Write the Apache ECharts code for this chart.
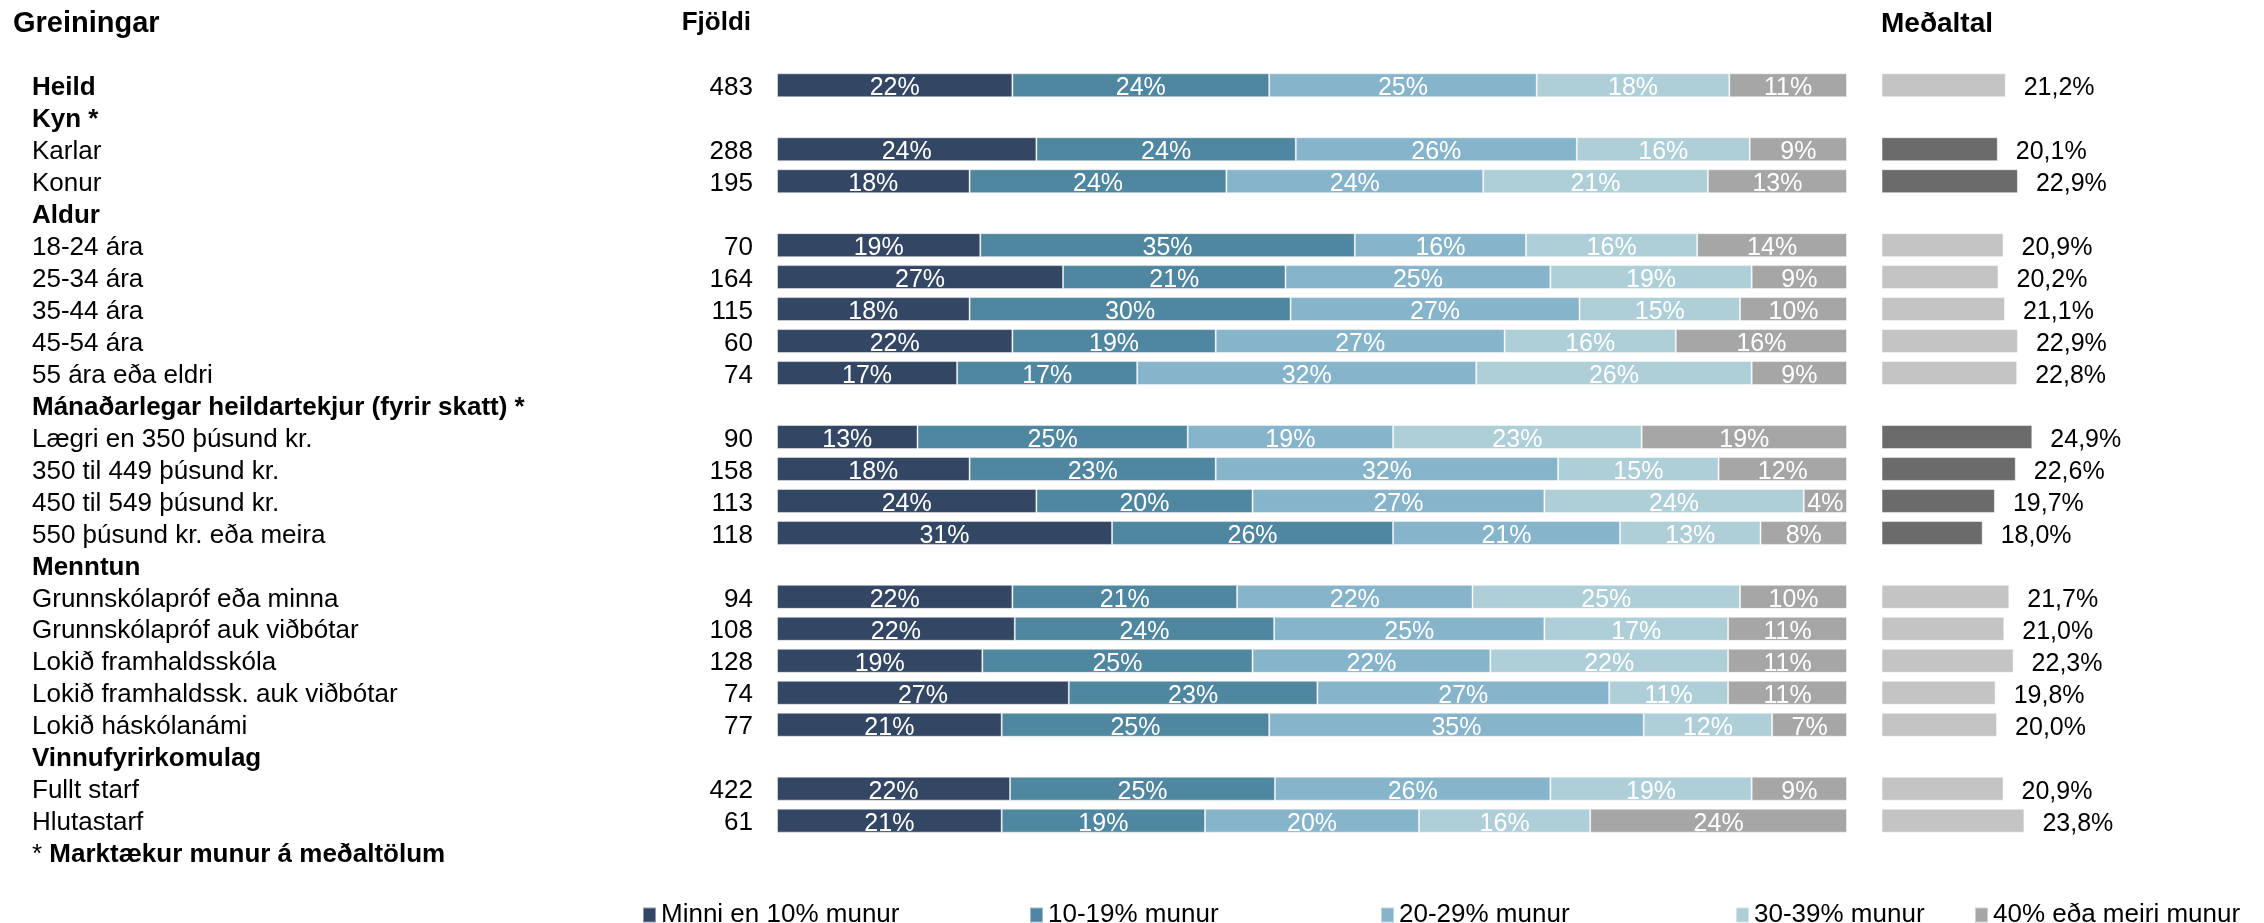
<!DOCTYPE html>
<html><head><meta charset="utf-8">
<script src="https://cdn.jsdelivr.net/npm/echarts@6/dist/echarts.min.js"></script>
<style>html,body{margin:0;padding:0;background:#fff}#c{width:2264px;height:923px}</style>
</head><body><div id="c"></div>
<script>
// ---------- DATA ----------
const rowLabels = ['Heild','Kyn *','Karlar','Konur','Aldur','18-24 ára','25-34 ára','35-44 ára','45-54 ára','55 ára eða eldri',
  'Mánaðarlegar heildartekjur (fyrir skatt) *','Lægri en 350 þúsund kr.','350 til 449 þúsund kr.','450 til 549 þúsund kr.','550 þúsund kr. eða meira',
  'Menntun','Grunnskólapróf eða minna','Grunnskólapróf auk viðbótar','Lokið framhaldsskóla','Lokið framhaldssk. auk viðbótar','Lokið háskólanámi',
  'Vinnufyrirkomulag','Fullt starf','Hlutastarf','* Marktækur munur á meðaltölum'];
const headerRows = [0,1,4,10,15,21,24];
const counts   = [483,null,288,195,null,70,164,115,60,74,null,90,158,113,118,null,94,108,128,74,77,null,422,61,null];
const seriesNames = ['Minni en 10% munur','10-19% munur','20-29% munur','30-39% munur','40% eða meiri munur'];
const under10  = [22,null,24,18,null,19,27,18,22,17,null,13,18,24,31,null,22,22,19,27,21,null,22,21,null];
const p10to19  = [24,null,24,24,null,35,21,30,19,17,null,25,23,20,26,null,21,24,25,23,25,null,25,19,null];
const p20to29  = [25,null,26,24,null,16,25,27,27,32,null,19,32,27,21,null,22,25,22,27,35,null,26,20,null];
const p30to39  = [18,null,16,21,null,16,19,15,16,26,null,23,15,24,13,null,25,17,22,11,12,null,19,16,null];
const p40plus  = [11,null,9,13,null,14,9,10,16,9,null,19,12,4,8,null,10,11,11,11,7,null,9,24,null];
const means    = [21.2,null,20.1,22.9,null,20.9,20.2,21.1,22.9,22.8,null,24.9,22.6,19.7,18.0,null,21.7,21.0,22.3,19.8,20.0,null,20.9,23.8,null];
const significantRows = [2,3,11,12,13,14];

// ---------- STYLE ----------
const FONT = '"Liberation Sans", Arial, sans-serif';
const colors = ['#334764','#4f86a0','#86b4ca','#aecfd8','#a6a6a6'];
const groups = [under10, p10to19, p20to29, p30to39, p40plus];
const totals = rowLabels.map((_, i) => groups[0][i] == null ? null : groups.reduce((s, g) => s + g[i], 0));

const chart = echarts.init(document.getElementById('c'), null, {renderer: 'canvas'});

const gridTop = 69.3, gridBottom = 54.4;
const legendLefts = [637, 1024, 1375, 1730, 1969];
const ROW_FS = 26;

const barSeries = groups.map((g, k) => ({
  name: seriesNames[k], type: 'bar', stack: 'dist', xAxisIndex: 0, yAxisIndex: 0,
  barWidth: 24,
  itemStyle: {color: colors[k], borderColor: 'rgba(255,255,255,0.45)', borderWidth: 1},
  label: {show: true, position: 'inside', color: '#fff', fontFamily: FONT, fontSize: 25, offset: [0, 3],
    formatter: p => g[p.dataIndex] + '%'},
  emphasis: {disabled: true},
  data: g.map((v, i) => v == null ? null : v / totals[i] * 100)
}));

const meanSeries = {
  type: 'bar', xAxisIndex: 1, yAxisIndex: 2, barWidth: 24,
  emphasis: {disabled: true},
  label: {show: true, position: 'right', distance: 18, color: '#000', fontFamily: FONT, fontSize: 25, offset: [0, 3],
    formatter: p => p.value.toFixed(1).replace('.', ',') + '%'},
  data: means.map((v, i) => v == null ? null : {value: v,
    itemStyle: {color: significantRows.includes(i) ? '#6b6b6b' : '#c4c4c4', borderColor: 'rgba(255,255,255,0.5)', borderWidth: 1}})
};

chart.setOption({
  backgroundColor: '#fff',
  animation: false,
  textStyle: {fontFamily: FONT},
  title: [
    {text: 'Greiningar', left: 8, top: 4, textStyle: {fontFamily: FONT, fontWeight: 'bold', fontSize: 29, color: '#000'}},
    {text: 'Fjöldi', right: 1508, top: 5, textStyle: {fontFamily: FONT, fontWeight: 'bold', fontSize: 26, color: '#000'}},
    {text: 'Meðaltal', left: 1876, top: 5, textStyle: {fontFamily: FONT, fontWeight: 'bold', fontSize: 28, color: '#000'}}
  ],
  legend: seriesNames.map((n, k) => ({
    data: [n], left: legendLefts[k], top: 897, icon: 'rect', itemWidth: 13, itemHeight: 15,
    selectedMode: false, textStyle: {fontFamily: FONT, fontSize: 26, color: '#000'}
  })),
  grid: [
    {left: 777, right: 417, top: gridTop, bottom: gridBottom, outerBoundsMode: 'none'},
    {left: 1882, right: 195, top: gridTop, bottom: gridBottom, outerBoundsMode: 'none'}
  ],
  xAxis: [
    {type: 'value', gridIndex: 0, min: 0, max: 100, show: false},
    {type: 'value', gridIndex: 1, min: 4, max: 30, show: false}
  ],
  yAxis: [
    {type: 'category', gridIndex: 0, inverse: true, data: rowLabels, position: 'left',
      axisLine: {show: false}, axisTick: {show: false}, splitLine: {show: false},
      axisLabel: {interval: 0, margin: 745, align: 'left', color: '#000', fontFamily: FONT, fontSize: ROW_FS,
        formatter: (v, i) => {
          if (v.indexOf('* ') === 0) return '{n|* }{b|' + v.slice(2) + '}';
          return headerRows.includes(i) ? '{b|' + v + '}' : '{n|' + v + '}';
        },
        rich: {
          b: {fontFamily: FONT, fontSize: ROW_FS, fontWeight: 'bold', color: '#000', padding: [5, 0, 0, 0]},
          n: {fontFamily: FONT, fontSize: ROW_FS, color: '#000', padding: [5, 0, 0, 0]}
        }}},
    {type: 'category', gridIndex: 0, inverse: true, data: rowLabels, position: 'left', offset: 0,
      axisLine: {show: false}, axisTick: {show: false}, splitLine: {show: false},
      axisLabel: {interval: 0, margin: 24, align: 'right', color: '#000', fontFamily: FONT, fontSize: ROW_FS,
        formatter: (v, i) => counts[i] == null ? '' : '{n|' + counts[i] + '}',
        rich: {n: {fontFamily: FONT, fontSize: ROW_FS, color: '#000', padding: [5, 0, 0, 0]}}}},
    {type: 'category', gridIndex: 1, inverse: true, data: rowLabels, show: false}
  ],
  series: [...barSeries, meanSeries]
});
</script>
</body></html>
